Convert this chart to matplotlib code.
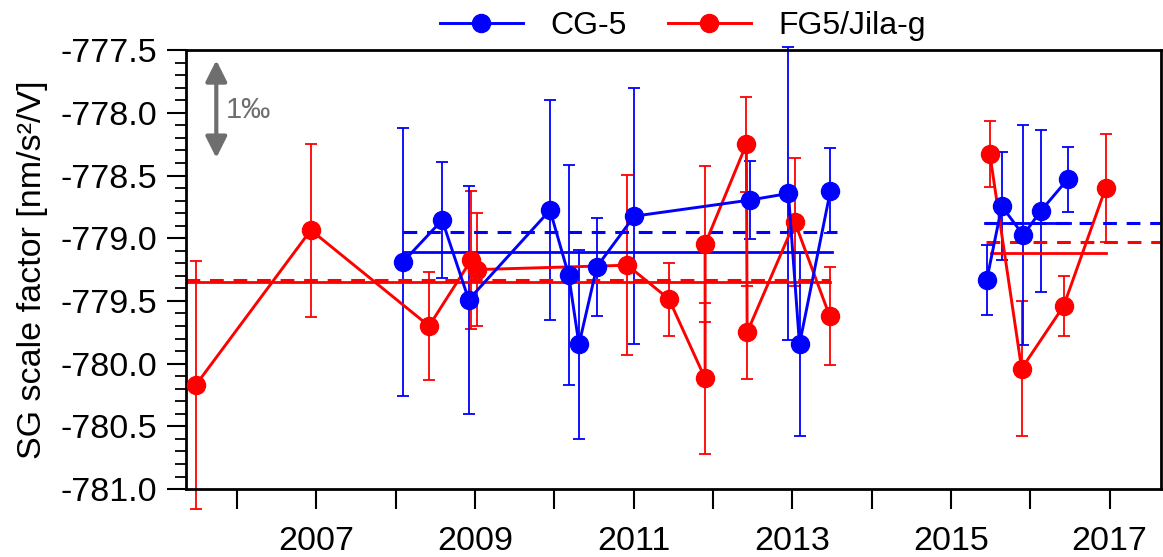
import matplotlib
matplotlib.use("Agg")
import matplotlib.pyplot as plt
import numpy as np
from matplotlib.ticker import FixedLocator, MultipleLocator, FormatStrFormatter

plt.rcParams["font.family"] = ["Liberation Sans", "DejaVu Sans"]

# CG-5 relative gravimeter calibrations (decimal year, value, 1-sigma)
cg5_year = [2008.09, 2008.585, 2008.92, 2009.945, 2010.18, 2010.31, 2010.535,
            2011.006, 2012.46, 2012.95, 2013.09, 2013.48,
            2015.45, 2015.64, 2015.91, 2016.13, 2016.47]
cg5_val = [-779.19, -778.855, -779.49, -778.776, -779.294, -779.847, -779.228,
           -778.824, -778.696, -778.643, -779.845, -778.62,
           -779.334, -778.744, -778.975, -778.784, -778.53]
cg5_err = [1.07, 0.465, 0.91, 0.875, 0.88, 0.75, 0.39,
           1.02, 0.31, 1.17, 0.73, 0.34,
           0.28, 0.43, 0.875, 0.645, 0.26]
cg5_period = [1] * 12 + [2] * 5

# FG5 / Jila-g absolute gravimeter calibrations
fg5_year = [2005.48, 2006.93, 2008.42, 2008.95, 2009.03, 2010.92, 2011.445,
            2011.90, 2011.90, 2012.42, 2012.43, 2013.03, 2013.47,
            2015.49, 2015.89, 2016.42, 2016.95]
fg5_val = [-780.17, -778.935, -779.70, -779.175, -779.25, -779.215, -779.486,
           -780.118, -779.047, -778.25, -779.75, -778.87, -779.62,
           -778.33, -780.04, -779.54, -778.598]
fg5_err = [0.99, 0.69, 0.43, 0.55, 0.45, 0.72, 0.29,
           0.60, 0.62, 0.38, 0.37, 0.51, 0.39,
           0.265, 0.54, 0.24, 0.43]
fg5_period = [1] * 13 + [2] * 4

# mean levels per period: (start, end, value)
cg5_mean_solid = [(2008.09, 2013.50, -779.108), (2015.43, 2016.50, -778.877)]
cg5_mean_dash = [(2008.09, 2013.56, -778.95), (2015.43, 2017.70, -778.877)]
fg5_mean_solid = [(2005.36, 2013.47, -779.35), (2015.50, 2016.96, -779.12)]
fg5_mean_dash = [(2005.36, 2013.47, -779.33), (2015.44, 2017.70, -779.03)]

BLUE = "#0000ff"
RED = "#ff0000"

fig = plt.figure(figsize=(11.63, 5.57), dpi=100)
ax = fig.add_axes([0.16, 0.122, 0.838, 0.788])


def draw_series(years, vals, errs, periods, color, label):
    years, vals, errs, periods = map(np.asarray, (years, vals, errs, periods))
    eb = ax.errorbar(years, vals, yerr=errs, fmt="none", ecolor=color,
                     elinewidth=1.3, capsize=4.5, capthick=1.3, zorder=2)
    for art in eb.lines[1] + eb.lines[2]:
        art.set_clip_on(False)
    for i, p in enumerate(np.unique(periods)):
        m = periods == p
        ax.plot(years[m], vals[m], "-o", color=color, lw=2.1, ms=13,
                label=label if i == 0 else None, zorder=3)


def draw_means(solid, dash, color):
    for x0, x1, v in solid:
        ax.plot([x0, x1], [v, v], "-", color=color, lw=2.0, zorder=2.5)
    for x0, x1, v in dash:
        ax.plot([x0, x1], [v, v], "--", color=color, lw=2.2,
                dashes=(4.5, 3.2), zorder=2.5)


draw_means(fg5_mean_solid, fg5_mean_dash, RED)
draw_means(cg5_mean_solid, cg5_mean_dash, BLUE)
draw_series(fg5_year, fg5_val, fg5_err, fg5_period, RED, "FG5/Jila-g")
draw_series(cg5_year, cg5_val, cg5_err, cg5_period, BLUE, "CG-5")

ax.set_xlim(2005.357, 2017.643)
ax.set_ylim(-781.0, -777.5)

years = list(range(2006, 2018))
ax.xaxis.set_major_locator(FixedLocator(years))
ax.set_xticklabels([str(y) if y % 2 else "" for y in years])
ax.yaxis.set_major_locator(MultipleLocator(0.5))
ax.yaxis.set_minor_locator(MultipleLocator(0.1))
ax.yaxis.set_major_formatter(FormatStrFormatter("%.1f"))

ax.tick_params(axis="x", which="major", direction="out", length=14.5,
               width=1.5, pad=12, labelsize=24.5)
ax.tick_params(axis="y", which="major", direction="out", length=14,
               width=1.5, pad=7, labelsize=24.5)
ax.tick_params(axis="y", which="minor", direction="out", length=8, width=1.3)
for s in ax.spines.values():
    s.set_linewidth(2.0)

ax.set_ylabel("SG scale factor [nm/s²/V]", fontsize=24.5, labelpad=9)

# 1 per mille scale arrow
ax.annotate("", xy=(0.031, -777.58), xytext=(0.031, -778.36),
            xycoords=("axes fraction", "data"),
            arrowprops=dict(arrowstyle="<|-|>", color="#6e6e6e", lw=3,
                            mutation_scale=32, shrinkA=0, shrinkB=0))
ax.text(0.041, -777.98, "1‰", transform=ax.get_yaxis_transform(),
        fontsize=21, color="#6e6e6e", va="center", ha="left")

handles, labels = ax.get_legend_handles_labels()
order = [labels.index("CG-5"), labels.index("FG5/Jila-g")]
fig.legend([handles[i] for i in order], [labels[i] for i in order],
           loc="center", bbox_to_anchor=(0.587, 0.953), ncol=2, frameon=False,
           fontsize=23, handlelength=2.6, handletextpad=0.85,
           columnspacing=1.3, borderpad=0)

fig.savefig("out.png", dpi=100)
